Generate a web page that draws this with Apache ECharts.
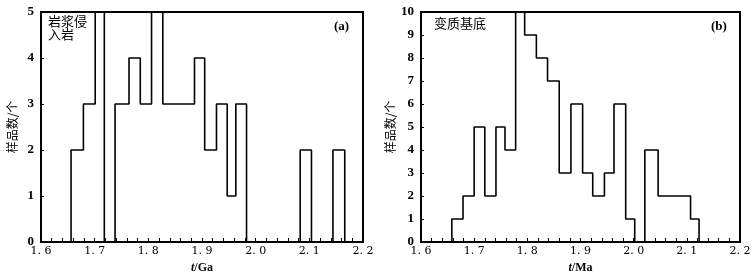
<!DOCTYPE html>
<html><head><meta charset="utf-8">
<script src="https://cdn.jsdelivr.net/npm/echarts@6/dist/echarts.min.js"></script>
<style>html,body{margin:0;padding:0;background:#fff}#c{width:756px;height:279px}</style>
</head><body><div id="c"></div>
<script>
// Panel (a): magmatic intrusive rocks — bin edges (Ga) and sample counts
const edgesA = [1.656, 1.679, 1.701, 1.718, 1.738, 1.764, 1.785, 1.806, 1.827, 1.886, 1.905, 1.927, 1.947, 1.963, 1.983, 2.083, 2.104, 2.144, 2.166];
const countsA = [2, 3, 5, 0, 3, 4, 3, 5, 3, 4, 2, 3, 1, 3, 0, 2, 0, 2];
// Panel (b): metamorphic basement
const edgesB = [1.658, 1.679, 1.700, 1.720, 1.741, 1.758, 1.778, 1.795, 1.817, 1.838, 1.860, 1.882, 1.904, 1.923, 1.945, 1.963, 1.985, 2.002, 2.021, 2.046, 2.107, 2.123];
const countsB = [1, 2, 5, 2, 5, 4, 10, 9, 8, 7, 3, 6, 3, 2, 3, 6, 1, 0, 4, 2, 1];
const xTicks = [1.6, 1.7, 1.8, 1.9, 2.0, 2.1, 2.2];
const xTickLabels = ['1. 6', '1. 7', '1. 8', '1. 9', '2. 0', '2. 1', '2. 2'];
const yMaxA = 5, yMaxB = 10;
const labelA = '岩浆侵\n入岩', labelB = '变质基底';
const panelA = '(a)', panelB = '(b)';
const yName = '样品数/个';

function outline(edges, counts) {
  const pts = [[edges[0], 0]];
  for (let i = 0; i < counts.length; i++) {
    pts.push([edges[i], counts[i]]);
    pts.push([edges[i + 1], counts[i]]);
  }
  pts.push([edges[edges.length - 1], 0]);
  return pts;
}
function tickLabel(v) {
  for (let i = 0; i < xTicks.length; i++) if (Math.abs(v - xTicks[i]) < 1e-6) return xTickLabels[i];
  return '';
}
const serif = 'Liberation Serif';
const cjk = 'Noto Sans CJK SC';
function xAx(idx, unit) {
  return {
    type: 'value', gridIndex: idx, min: 1.6, max: 2.2, interval: 0.1,
    axisLine: { show: true, lineStyle: { color: '#000', width: 2 } },
    axisTick: { show: true, inside: true, length: 4, lineStyle: { color: '#000', width: 1 } },
    minorTick: { show: true, splitNumber: 5, length: 4, lineStyle: { color: '#000', width: 1 } },
    splitLine: { show: false },
    axisLabel: { formatter: tickLabel, color: '#000', fontFamily: 'DejaVu Serif', fontSize: 11, margin: 4 },
    name: '{i|t}{n|/' + unit + '}', nameLocation: 'middle', nameGap: 20,
    nameTextStyle: { rich: { i: { fontFamily: serif, fontStyle: 'italic', fontWeight: 'bold', fontSize: 12, color: '#000' }, n: { fontFamily: serif, fontWeight: 'bold', fontSize: 12, color: '#000' } } }
  };
}
function yAx(idx, max, gap) {
  return {
    type: 'value', gridIndex: idx, min: 0, max: max, interval: 1,
    axisLine: { show: true, lineStyle: { color: '#000', width: 2 } },
    axisTick: { show: true, inside: true, length: 3, lineStyle: { color: '#000' } },
    splitLine: { show: false },
    axisLabel: { color: '#000', fontFamily: serif, fontSize: 13, fontWeight: 'bold', margin: 7 },
    name: yName, nameLocation: 'middle', nameGap: gap, nameRotate: 90,
    nameTextStyle: { fontFamily: cjk, fontSize: 12, color: '#000' }
  };
}
const chart = echarts.init(document.getElementById('c'), null, { renderer: 'canvas' });
chart.setOption({
  animation: false,
  backgroundColor: '#fff',
  grid: [
    { left: 41, top: 12, width: 322, height: 235, show: true, borderColor: '#000', borderWidth: 2, backgroundColor: 'transparent' },
    { left: 421, top: 12, width: 319, height: 235, show: true, borderColor: '#000', borderWidth: 2, backgroundColor: 'transparent' }
  ],
  xAxis: [xAx(0, 'Ga'), xAx(1, 'Ma')],
  yAxis: [yAx(0, yMaxA, 23), yAx(1, yMaxB, 25)],
  series: [
    { type: 'line', xAxisIndex: 0, yAxisIndex: 0, data: outline(edgesA, countsA), showSymbol: false, symbol: 'none', lineStyle: { color: '#000', width: 1.6 }, clip: true },
    { type: 'line', xAxisIndex: 1, yAxisIndex: 1, data: outline(edgesB, countsB), showSymbol: false, symbol: 'none', lineStyle: { color: '#000', width: 1.6 }, clip: true }
  ],
  graphic: [
    { type: 'text', left: 48, top: 15, style: { text: labelA, font: '13px "Noto Sans CJK SC"', fill: '#000', lineHeight: 13 } },
    { type: 'text', left: 334, top: 20, style: { text: panelA, font: 'bold 13px "Liberation Serif"', fill: '#000' } },
    { type: 'text', left: 434, top: 17, style: { text: labelB, font: '13px "Noto Sans CJK SC"', fill: '#000' } },
    { type: 'text', left: 711, top: 20, style: { text: panelB, font: 'bold 13px "Liberation Serif"', fill: '#000' } }
  ]
});
</script></body></html>
